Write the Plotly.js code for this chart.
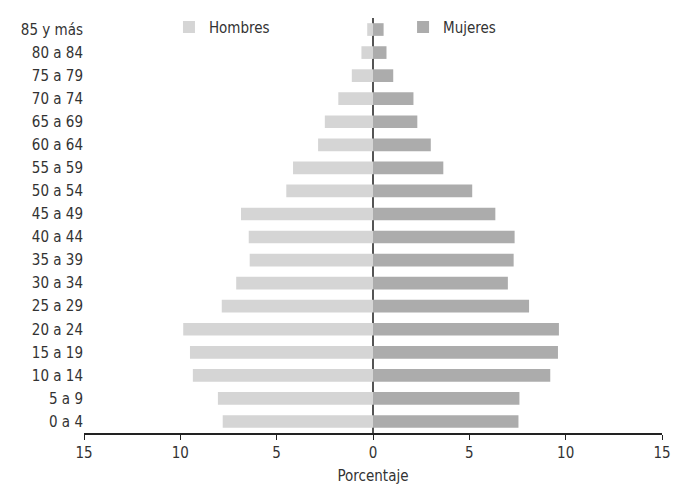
<!DOCTYPE html>
<html>
<head>
<meta charset="utf-8">
<script src="https://cdn.plot.ly/plotly-3.0.1.min.js"></script>
<style>html,body{margin:0;padding:0;background:#fff;}#chart{width:673px;height:485px;}</style>
</head>
<body>
<div id="chart"></div>
<script>
const ageGroups = ["0 a 4","5 a 9","10 a 14","15 a 19","20 a 24","25 a 29","30 a 34","35 a 39","40 a 44","45 a 49","50 a 54","55 a 59","60 a 64","65 a 69","70 a 74","75 a 79","80 a 84","85 y más"];
const hombres = [7.8, 8.05, 9.35, 9.5, 9.85, 7.85, 7.1, 6.4, 6.45, 6.85, 4.5, 4.15, 2.85, 2.5, 1.8, 1.1, 0.6, 0.3];
const mujeres = [7.55, 7.6, 9.2, 9.6, 9.65, 8.1, 7.0, 7.3, 7.35, 6.35, 5.15, 3.65, 3.0, 2.3, 2.1, 1.05, 0.7, 0.55];
const tickVals = [-15, -10, -5, 0, 5, 10, 15];
const tickText = ["15", "10", "5", "0", "5", "10", "15"];

const font = {family: "DejaVu Sans Condensed, Liberation Sans Narrow, sans-serif", size: 15, color: "#333"};

const data = [
  {type: "bar", orientation: "h", name: "Hombres", y: ageGroups, x: hombres.map(v => -v),
   marker: {color: "#d5d5d5"}, width: 0.55, legend: "legend"},
  {type: "bar", orientation: "h", name: "Mujeres", y: ageGroups, x: mujeres,
   marker: {color: "#acacac"}, width: 0.55, legend: "legend2"}
];

const legendBase = {orientation: "h", xanchor: "left", yanchor: "middle",
  yref: "container", y: 0.944,
  font: font, bgcolor: "rgba(0,0,0,0)", borderwidth: 0, itemwidth: 30};

const layout = {
  width: 673, height: 485,
  margin: {l: 84, r: 11, t: 18, b: 52, autoexpand: false},
  paper_bgcolor: "#fff", plot_bgcolor: "#fff",
  font: font,
  barmode: "relative",
  showlegend: true,
  legend: Object.assign({}, legendBase, {x: 0.147}),
  legend2: Object.assign({}, legendBase, {x: 0.552}),
  xaxis: {range: [-15, 15], tickvals: tickVals, ticktext: tickText,
          showgrid: false, zeroline: true, zerolinecolor: "#555", zerolinewidth: 2,
          showline: true, linecolor: "#222", linewidth: 1.5,
          ticks: "outside", ticklen: 5, tickcolor: "#222", tickfont: font,
          title: {text: "Porcentaje", font: font, standoff: 10}},
  yaxis: {type: "category", categoryorder: "array", categoryarray: ageGroups,
          showgrid: false, zeroline: false, showline: false, ticks: "", tickfont: font,
          automargin: false, ticklabelstandoff: 0}
};

Plotly.newPlot("chart", data, layout, {staticPlot: true, displayModeBar: false});
</script>
</body>
</html>
